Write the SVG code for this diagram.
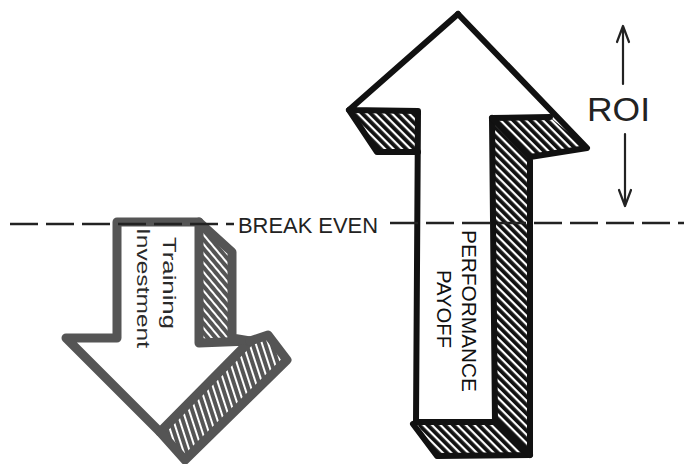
<svg xmlns="http://www.w3.org/2000/svg" width="684" height="464" viewBox="0 0 684 464">
  <defs>
    <pattern id="hatchK" width="6" height="6" patternUnits="userSpaceOnUse" patternTransform="rotate(45)">
      <rect width="6" height="6" fill="#111"/>
      <rect y="0" width="6" height="2.2" fill="#fff"/>
    </pattern>
    <pattern id="hatchG" width="6" height="6" patternUnits="userSpaceOnUse" patternTransform="rotate(50)">
      <rect width="6" height="6" fill="#555"/>
      <rect y="0" width="6" height="2" fill="#fff"/>
    </pattern>
    <pattern id="hatchG2" width="6" height="6" patternUnits="userSpaceOnUse" patternTransform="rotate(72)">
      <rect width="6" height="6" fill="#555"/>
      <rect y="0" width="6" height="2" fill="#fff"/>
    </pattern>
    <style>
      .outK { fill: none; stroke: #111; stroke-width: 6; stroke-linejoin: round; stroke-linecap: round; }
      .outG { fill: none; stroke: #555; stroke-width: 9; stroke-linejoin: round; stroke-linecap: round; }
      .lbl { font-family: "Liberation Sans", Arial, sans-serif; }
      .dash { stroke: #222; stroke-width: 2.5; stroke-dasharray: 28 8; fill: none; }
      .roiArrow { stroke: #222; stroke-width: 2.2; fill: none; stroke-linecap: round; stroke-linejoin: round; }
    </style>
  </defs>

  <rect width="684" height="464" fill="#fff"/>

  <!-- Training Investment arrow (gray, pointing down) -->
  <g id="training-arrow">
    <path d="M117,222 L199,222 L232,252 L232,338 L250,341 L268,335 L287,360 L185,460 L160,432 L66,338 L117,338 Z" fill="#fff"/>
    <path d="M199,222 L232,252 L232,338 L199,343 Z" fill="url(#hatchG)"/>
    <path d="M250,341 L268,335 L287,360 L185,460 L160,432 Z" fill="url(#hatchG2)"/>
    <path class="outG" d="M117,222 L199,222 L199,343 L250,341 L160,432 L66,338 L117,338 Z"/>
    <path class="outG" d="M199,222 L232,252 L232,338 L250,341"/>
    <path class="outG" d="M250,341 L268,335 L287,360 L185,460 L160,432"/>
    <g class="lbl" fill="#2a2a2a" font-size="18">
      <text transform="translate(163,237) rotate(90)" textLength="92" lengthAdjust="spacingAndGlyphs">Training</text>
      <text transform="translate(137,228) rotate(90)" textLength="120" lengthAdjust="spacingAndGlyphs">Investment</text>
    </g>
  </g>

  <!-- Performance Payoff arrow (black, pointing up) -->
  <g id="payoff-arrow">
    <path d="M458,14 L587,148 L530,157 L530,455 L437,456 L413,424 L416,152 L377,152 L349,110 Z" fill="#fff"/>
    <path d="M349,110 L418,111 L418,152 L377,152 Z" fill="url(#hatchK)"/>
    <path d="M492,118 L550,117 L587,148 L530,157 Z" fill="url(#hatchK)"/>
    <path d="M492,118 L530,157 L530,455 L495,422 Z" fill="url(#hatchK)"/>
    <path d="M416,422 L495,422 L530,455 L437,456 Z" fill="url(#hatchK)"/>
    <path class="outK" d="M458,14 L349,110 L418,111 L416,422 L495,422 L492,118 L550,117"/>
    <path class="outK" d="M458,14 L587,148 L530,157 L530,455 L437,456 L413,424"/>
    <path class="outK" d="M349,110 L377,152 L418,152"/>
    <path class="outK" d="M492,118 L530,157"/>
    <path class="outK" d="M495,422 L530,455"/>
    <g class="lbl" fill="#111" font-size="20">
      <text transform="translate(462,230) rotate(90)" textLength="162" lengthAdjust="spacingAndGlyphs">PERFORMANCE</text>
      <text transform="translate(437,270) rotate(90)" textLength="78" lengthAdjust="spacingAndGlyphs">PAYOFF</text>
    </g>
  </g>

  <!-- Break even line -->
  <g id="break-even">
    <line class="dash" x1="10" y1="224" x2="234" y2="224"/>
    <line class="dash" x1="390" y1="223" x2="684" y2="223"/>
    <text class="lbl" x="238" y="233" font-size="22" fill="#222" textLength="140" lengthAdjust="spacingAndGlyphs">BREAK EVEN</text>
  </g>

  <!-- ROI label -->
  <g id="roi">
    <text class="lbl" x="587" y="121" font-size="34" fill="#222" textLength="63" lengthAdjust="spacingAndGlyphs">ROI</text>
  </g>

  <g id="connectors">
    <path class="roiArrow" d="M623,84 L623,26 M617,42 L623,26 L629,42"/>
    <path class="roiArrow" d="M625,134 L625,206 M619,190 L625,206 L631,190"/>
  </g>
</svg>
